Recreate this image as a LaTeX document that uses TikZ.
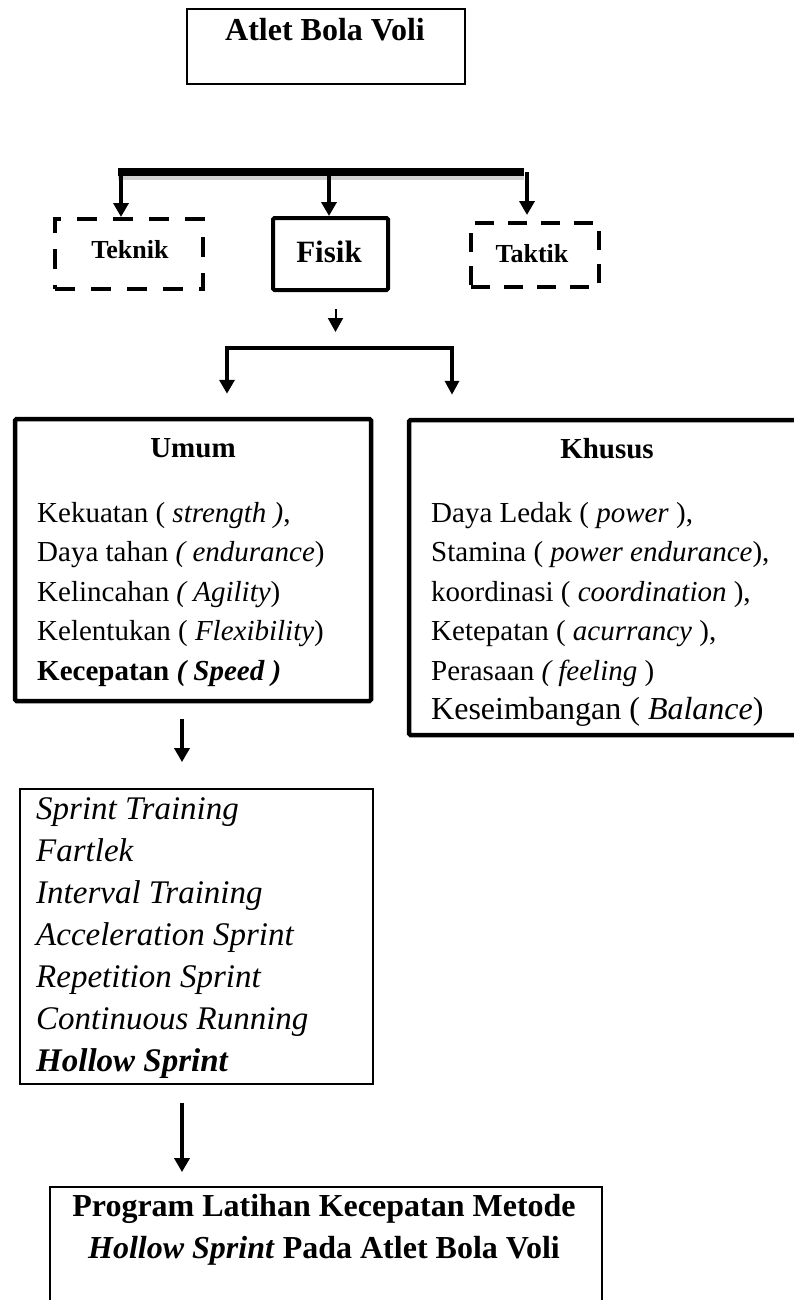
\documentclass[tikz,border=0pt]{standalone}
\usepackage{fontspec}
\setmainfont{Liberation Serif}
\usetikzlibrary{arrows.meta}
\tikzstyle{box} = [draw, line width=4pt, rounded corners=1.5pt, inner sep=0pt]
\tikzstyle{thinbox} = [draw, line width=1.8pt, inner sep=0pt]
\tikzstyle{dashbox} = [draw, line width=4pt, dash pattern=on 20pt off 16pt, inner sep=0pt]
\tikzstyle{title} = [anchor=base, inner sep=0pt, font=\bfseries\fontsize{29}{34}\selectfont]
\tikzstyle{item} = [anchor=base west, inner sep=0pt, font=\fontsize{29}{34}\selectfont]
\tikzstyle{arr} = [draw, line width=4pt, -{Triangle[width=15pt,length=14pt]}]
\tikzstyle{smallarr} = [draw, line width=2pt, -{Triangle[width=15pt,length=14pt]}]

\begin{document}
\begin{tikzpicture}[x=1pt, y=-1pt]
    \useasboundingbox (0,0) rectangle (794,1300);

    % top box and the three branches
    \node[thinbox, line width=1.5pt, minimum width=278pt, minimum height=75pt] (atlet) at (326,46.5) {};
    \node[title, font=\bfseries\fontsize{32}{38}\selectfont] (atlet-t) at (325,41) {Atlet Bola Voli};

    \node[dashbox, minimum width=148pt, minimum height=70pt] (teknik) at (129,254) {};
    \node[box, minimum width=115pt, minimum height=72pt] (fisik) at (330.5,254) {};
    \node[dashbox, dash pattern=on 19pt off 14pt, minimum width=128pt, minimum height=64pt] (taktik) at (535,255) {};
    \node[title, font=\bfseries\fontsize{26}{30}\selectfont] (teknik-t) at (130,258) {Teknik};
    \node[title, font=\bfseries\fontsize{31}{36}\selectfont] (fisik-t) at (329,262) {Fisik};
    \node[title, font=\bfseries\fontsize{26}{30}\selectfont] (taktik-t) at (532,262) {Taktik};

    \coordinate (busL) at (118,172);
    \coordinate (busR) at (524,172);
    \draw[line width=6pt, black!18] ([yshift=-5pt]busL) -- ([yshift=-5pt]busR);
    \draw[line width=8pt] (busL) -- (busR);

    % drops from the bar
    \foreach \x/\dest/\gap in {121/teknik/0, 329/fisik/0, 527/taktik/6} {
        \coordinate (drop-\dest) at (\x,172);
        \draw[arr, shorten >=\gap pt] (drop-\dest) -- (drop-\dest |- \dest.north);
    }

    \draw[smallarr] ([xshift=5pt, yshift=-17pt]fisik.south) -- ++(0,23);

    % Umum and Khusus
    \node[box, line width=4.5pt, minimum width=356pt, minimum height=282pt] (umum) at (193,560) {};
    \node[box, line width=4.5pt, minimum width=400pt, minimum height=315pt] (khusus) at (609,577.5) {};
    \node[title] (umum-t) at (193,457) {Umum};
    \node[title] (khusus-t) at (607,458) {Khusus};

    \coordinate (brL) at (227,348);
    \coordinate (brR) at (452,348);
    \draw[line width=3.5pt, {Triangle[width=15pt,length=14pt]}-{Triangle[width=14pt,length=14pt]}, shorten <=23pt, shorten >=23pt]
        (brL |- umum.north) -- (brL) -- (brR) -- (brR |- khusus.north);

    \foreach \y/\txt [count=\i] in {522/{Kekuatan ( \textit{strength )},},
                                   561.5/{Daya tahan \textit{( endurance})},
                                   601/{Kelincahan \textit{( Agility})},
                                   640.5/{Kelentukan ( \textit{Flexibility})},
                                   680/{\textbf{Kecepatan \textit{( Speed )}}}}
        \node[item] (umum-\i) at (37,\y) {\txt};

    \foreach \y/\txt [count=\i] in {522/{Daya Ledak ( \textit{power} ),},
                                   561.5/{Stamina ( \textit{power endurance}),},
                                   601/{koordinasi ( \textit{coordination} ),},
                                   640.5/{Ketepatan ( \textit{acurrancy} ),},
                                   680/{Perasaan \textit{( feeling} )},
                                   719/{\fontsize{32}{38}\selectfont Keseimbangan ( \textit{Balance})}}
        \node[item] (khusus-\i) at (431,\y) {\txt};

    % speed methods
    \node[thinbox, minimum width=353pt, minimum height=295pt] (speed) at (196.5,936.5) {};
    \draw[arr, shorten <=16pt, shorten >=26pt] ([xshift=-11pt]umum.south) -- ([xshift=-14.5pt]speed.north);

    \foreach \y/\txt [count=\i] in {819/{Sprint Training}, 861/{Fartlek}, 903/{Interval Training},
                                   945/{Acceleration Sprint}, 987/{Repetition Sprint},
                                   1029/{Continuous Running}, 1071/{\textbf{Hollow Sprint}}}
        \node[item, font=\itshape\fontsize{33}{38}\selectfont] (speed-\i) at (36,\y) {\txt};

    % program
    \node[thinbox, minimum width=552pt, minimum height=140pt] (program) at (326,1257) {};
    \draw[arr, shorten <=18pt, shorten >=14pt] ([xshift=-14.5pt]speed.south) -- ([xshift=-144pt]program.north);
    \node[title, font=\bfseries\fontsize{32}{38}\selectfont] (program-1) at (324,1216) {Program Latihan Kecepatan Metode};
    \node[title, font=\bfseries\fontsize{32}{38}\selectfont] (program-2) at (324,1258) {\textit{Hollow Sprint} Pada Atlet Bola Voli};

\end{tikzpicture}
\end{document}
